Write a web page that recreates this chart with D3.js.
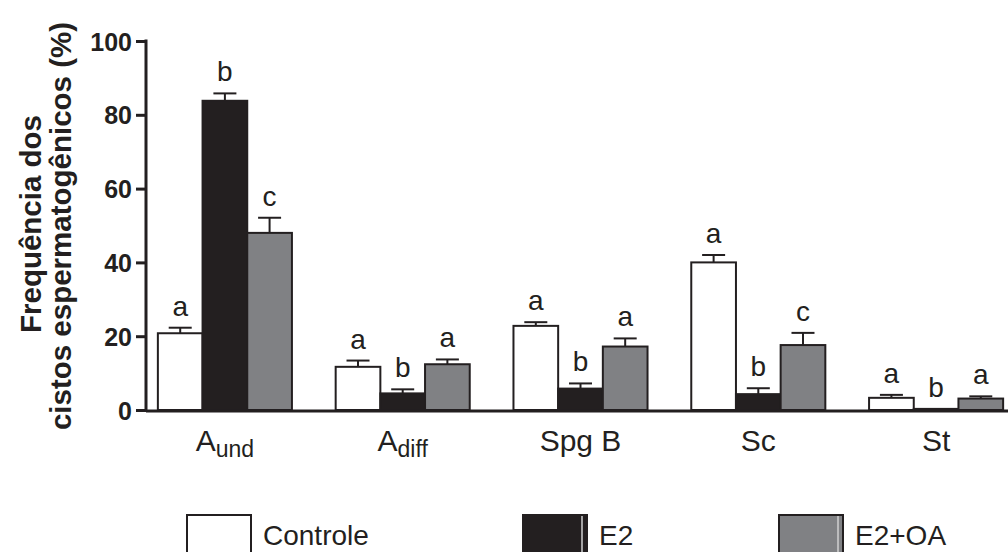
<!DOCTYPE html>
<html>
<head>
<meta charset="utf-8">
<script src="https://cdn.jsdelivr.net/npm/d3@7"></script>
<style>
  body { margin: 0; background: #fff; }
  text { font-family: "Liberation Sans", Arial, sans-serif; fill: #231f20; }
</style>
</head>
<body>
<svg id="chart" width="1008" height="552"></svg>
<script>
// data
var categories = ["Aund", "Adiff", "Spg B", "Sc", "St"];
var groups = ["Controle", "E2", "E2+OA"];
var controle = [20.8, 11.7, 22.8, 40.0, 3.3];
var e2 = [83.8, 4.5, 5.8, 4.3, 0.3];
var e2oa = [48.0, 12.4, 17.2, 17.6, 3.1];
var errControle = [1.5, 1.7, 1.0, 2.0, 0.8];
var errE2 = [2.0, 1.1, 1.4, 1.6, 0];
var errE2oa = [4.1, 1.3, 2.2, 3.3, 0.6];
var lettersControle = ["a", "a", "a", "a", "a"];
var lettersE2 = ["b", "b", "b", "b", "b"];
var lettersE2oa = ["c", "a", "a", "c", "a"];
var yTicks = [0, 20, 40, 60, 80, 100];
var colors = ["#ffffff", "#231f20", "#808184"];

var values = [controle, e2, e2oa];
var errs = [errControle, errE2, errE2oa];
var letters = [lettersControle, lettersE2, lettersE2oa];

var svg = d3.select("#chart");
var ink = "#231f20";

var x = d3.scaleBand()
    .domain(categories)
    .range([136, 1025])
    .paddingInner(0.246)
    .paddingOuter(0.123);

var xSub = d3.scaleBand()
    .domain(groups)
    .range([0, x.bandwidth()]);

var y = d3.scaleLinear()
    .domain([0, 100])
    .range([410, 41]);

// bars
var rows = [];
categories.forEach(function (c, i) {
    groups.forEach(function (g, j) {
        rows.push({ cat: c, grp: g, j: j, v: values[j][i], e: errs[j][i], l: letters[j][i] });
    });
});

var barG = svg.selectAll("g.bar")
    .data(rows)
    .enter().append("g")
    .attr("class", "bar")
    .attr("transform", function (d) {
        return "translate(" + (x(d.cat) + xSub(d.grp)) + ",0)";
    });

// error bars (drawn before the bar so the bar edge covers the stem base)
barG.filter(function (d) { return d.e > 0; })
    .append("line")
    .attr("x1", xSub.bandwidth() / 2)
    .attr("x2", xSub.bandwidth() / 2)
    .attr("y1", function (d) { return y(d.v); })
    .attr("y2", function (d) { return y(d.v + d.e); })
    .attr("stroke", ink)
    .attr("stroke-width", 2);

barG.filter(function (d) { return d.e > 0; })
    .append("line")
    .attr("x1", xSub.bandwidth() / 2 - 11.5)
    .attr("x2", xSub.bandwidth() / 2 + 11.5)
    .attr("y1", function (d) { return y(d.v + d.e); })
    .attr("y2", function (d) { return y(d.v + d.e); })
    .attr("stroke", ink)
    .attr("stroke-width", 2);

barG.append("rect")
    .attr("x", 0)
    .attr("width", xSub.bandwidth())
    .attr("y", function (d) { return y(d.v); })
    .attr("height", function (d) { return y(0) - y(d.v); })
    .attr("fill", function (d) { return colors[d.j]; })
    .attr("stroke", ink)
    .attr("stroke-width", 2);

barG.append("text")
    .text(function (d) { return d.l; })
    .attr("x", xSub.bandwidth() / 2)
    .attr("y", function (d) { return y(d.v + d.e) - 12; })
    .style("text-anchor", "middle")
    .style("font-size", "28px");

// y axis
var yAxis = d3.axisLeft(y).tickValues(yTicks).tickSize(10).tickPadding(4);
var yG = svg.append("g")
    .attr("transform", "translate(146,0)")
    .call(yAxis);
yG.select(".domain").remove();
yG.selectAll(".tick line").attr("stroke", ink).attr("stroke-width", 3);
yG.selectAll(".tick text")
    .style("font-size", "25px")
    .style("font-weight", "bold")
    .style("font-family", "Liberation Sans, Arial, sans-serif")
    .attr("fill", ink)
    .attr("dy", "0.36em");

svg.append("line")
    .attr("x1", 146).attr("x2", 146)
    .attr("y1", y(100) - 1.5).attr("y2", y(0) + 1.5)
    .attr("stroke", ink).attr("stroke-width", 3);
svg.append("line")
    .attr("x1", 146).attr("x2", 1008)
    .attr("y1", y(0) + 1).attr("y2", y(0) + 1)
    .attr("stroke", ink).attr("stroke-width", 3);

// y title
svg.append("text")
    .attr("transform", "translate(41,224) rotate(-90)")
    .style("text-anchor", "middle")
    .style("font-size", "29.5px")
    .style("font-weight", "bold")
    .text("Frequência dos");
svg.append("text")
    .attr("transform", "translate(71,226) rotate(-90)")
    .style("text-anchor", "middle")
    .style("font-size", "29.5px")
    .style("font-weight", "bold")
    .text("cistos espermatogênicos (%)");

// x labels
var xLab = svg.selectAll("text.xlab")
    .data(categories)
    .enter().append("text")
    .attr("class", "xlab")
    .attr("x", function (d) { return x(d) + x.bandwidth() / 2; })
    .attr("y", 451)
    .style("text-anchor", "middle")
    .style("font-size", "30px");
xLab.each(function (d) {
    var t = d3.select(this);
    if (d === "Aund" || d === "Adiff") {
        t.append("tspan").text("A");
        t.append("tspan").text(d.slice(1))
            .attr("dy", 6)
            .style("font-size", "23px");
    } else {
        t.text(d);
    }
});

// legend
var legendX = [187, 523, 779];
var leg = svg.selectAll("g.leg")
    .data(groups)
    .enter().append("g")
    .attr("class", "leg")
    .attr("transform", function (d, i) { return "translate(" + legendX[i] + ",515)"; });
leg.append("rect")
    .attr("width", 64)
    .attr("height", 45)
    .attr("fill", function (d, i) { return colors[i]; })
    .attr("stroke", ink)
    .attr("stroke-width", 2);
leg.filter(function (d, i) { return i > 0; })
    .append("line")
    .attr("x1", 59).attr("x2", 59)
    .attr("y1", 1).attr("y2", 45)
    .attr("stroke", "#d0d0d0")
    .attr("stroke-width", 1.5);
leg.append("text")
    .text(function (d) { return d; })
    .attr("x", 76)
    .attr("y", 30)
    .style("font-size", "28px");
</script>
</body>
</html>
